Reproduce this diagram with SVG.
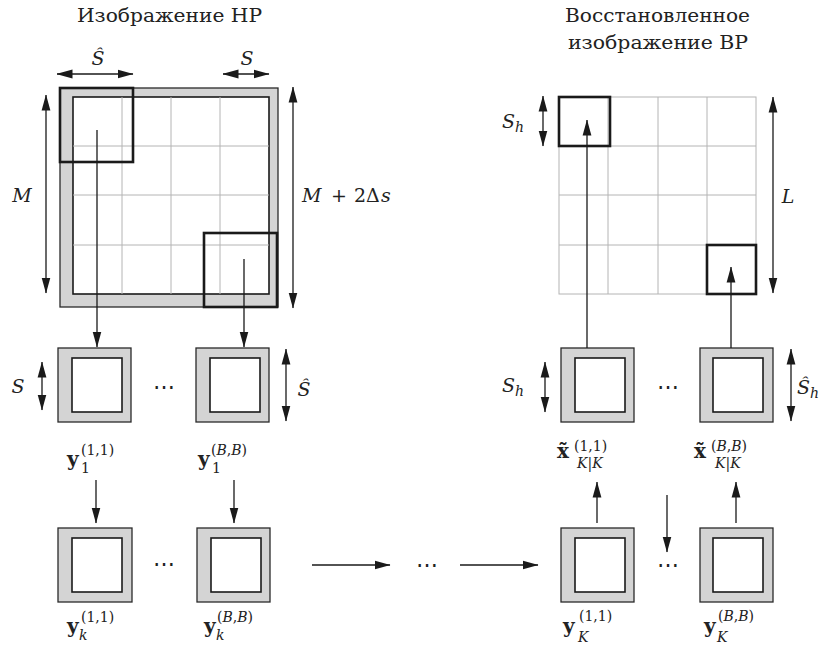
<svg xmlns="http://www.w3.org/2000/svg" width="819" height="650" viewBox="0 0 819 650">
<defs>
<style>
.t{font-family:"DejaVu Serif",serif;fill:#222;font-size:19px}
.i{font-style:italic}
.sm{font-size:14px}
.b{font-weight:bold;font-size:20px}
.dots{font-family:"DejaVu Serif",serif;font-size:22px;fill:#222}
.grid{stroke:#b4b4b4;stroke-width:1;fill:none}
.thick{stroke:#1a1a1a;stroke-width:2.6;fill:none}
.outer{fill:#d4d4d4;stroke:#2a2a2a;stroke-width:1.3}
.inner{fill:#fff;stroke:#1a1a1a;stroke-width:1.6}
.c line{stroke:#1a1a1a;stroke-width:1.3;fill:none}
.d{marker-start:url(#ah);marker-end:url(#ah)}
.a{marker-end:url(#ah)}
</style>
<marker id="ah" viewBox="0 0 16 10" refX="15.5" refY="5" markerWidth="16" markerHeight="10" markerUnits="userSpaceOnUse" orient="auto-start-reverse">
<path d="M0,0.6 L16,5 L0,9.4 z" fill="#1a1a1a"/>
</marker>
</defs>
<rect width="819" height="650" fill="#fff"/>

<!-- titles -->
<text class="t" x="77" y="22" textLength="185" lengthAdjust="spacingAndGlyphs">Изображение НР</text>
<text class="t" x="565" y="22" textLength="185" lengthAdjust="spacingAndGlyphs">Восстановленное</text>
<text class="t" x="568" y="49" textLength="180" lengthAdjust="spacingAndGlyphs">изображение ВР</text>

<!-- LR image -->
<g id="lr-image">
<rect class="outer" x="60" y="88" width="218" height="219"/>
<rect class="inner" x="73" y="97" width="196" height="197"/>
<path class="grid" d="M122,97V294M171,97V294M220,97V294M73,146H269M73,195H269M73,245H269"/>
<rect class="thick" x="60" y="88" width="73" height="74"/>
<rect class="thick" x="204" y="233" width="73" height="74"/>
</g>

<!-- HR image -->
<g id="hr-image">
<rect class="grid" x="559" y="97" width="197" height="197"/>
<path class="grid" d="M608,97V294M658,97V294M707,97V294M559,146H756M559,195H756M559,245H756"/>
<rect class="thick" x="559" y="97" width="51" height="49"/>
<rect class="thick" x="707" y="245" width="49" height="49"/>
</g>

<!-- row 1 left -->
<g id="y1-11">
<rect class="outer" x="58" y="348" width="73" height="74"/>
<rect class="inner" x="72" y="358" width="50" height="54"/>
<text class="t b" x="67" y="466">y</text>
<text class="t sm" x="81" y="455">(1,1)</text>
<text class="t sm" x="81" y="473">1</text>
</g>
<g id="y1-BB">
<rect class="outer" x="196" y="348" width="73" height="74"/>
<rect class="inner" x="210" y="358" width="50" height="54"/>
<text class="t b" x="198" y="466">y</text>
<text class="t sm" x="211" y="455">(<tspan class="i">B</tspan>,<tspan class="i">B</tspan>)</text>
<text class="t sm" x="212" y="473">1</text>
</g>

<!-- row 3 left -->
<g id="yk-11">
<rect class="outer" x="58" y="528" width="74" height="74"/>
<rect class="inner" x="72" y="538" width="50" height="54"/>
<text class="t b" x="67" y="633">y</text>
<text class="t sm" x="81" y="622">(1,1)</text>
<text class="t sm i" x="79" y="640">k</text>
</g>
<g id="yk-BB">
<rect class="outer" x="197" y="528" width="73" height="74"/>
<rect class="inner" x="211" y="538" width="50" height="54"/>
<text class="t b" x="204" y="633">y</text>
<text class="t sm" x="217" y="622">(<tspan class="i">B</tspan>,<tspan class="i">B</tspan>)</text>
<text class="t sm i" x="216" y="640">k</text>
</g>

<!-- row 1 right -->
<g id="xK-11">
<rect class="outer" x="561" y="348" width="73" height="74"/>
<rect class="inner" x="575" y="358" width="50" height="54"/>
<text class="t b" x="557" y="458">x̃</text>
<text class="t sm" x="574" y="451">(1,1)</text>
<text class="t sm" x="577" y="468"><tspan class="i">K</tspan>|<tspan class="i">K</tspan></text>
</g>
<g id="xK-BB">
<rect class="outer" x="700" y="348" width="73" height="74"/>
<rect class="inner" x="713" y="358" width="50" height="54"/>
<text class="t b" x="694" y="458">x̃</text>
<text class="t sm" x="711" y="451">(<tspan class="i">B</tspan>,<tspan class="i">B</tspan>)</text>
<text class="t sm" x="715" y="468"><tspan class="i">K</tspan>|<tspan class="i">K</tspan></text>
</g>

<!-- row 3 right -->
<g id="yK-11">
<rect class="outer" x="561" y="528" width="73" height="74"/>
<rect class="inner" x="575" y="538" width="50" height="54"/>
<text class="t b" x="563" y="633">y</text>
<text class="t sm" x="579" y="621">(1,1)</text>
<text class="t sm i" x="578" y="642">K</text>
</g>
<g id="yK-BB">
<rect class="outer" x="700" y="528" width="73" height="74"/>
<rect class="inner" x="713" y="538" width="50" height="54"/>
<text class="t b" x="704" y="633">y</text>
<text class="t sm" x="718" y="621">(<tspan class="i">B</tspan>,<tspan class="i">B</tspan>)</text>
<text class="t sm i" x="717" y="642">K</text>
</g>

<!-- dots -->
<g id="dots">
<text class="dots" x="164" y="394" text-anchor="middle">⋯</text>
<text class="dots" x="164" y="571" text-anchor="middle">⋯</text>
<text class="dots" x="427" y="572" text-anchor="middle">⋯</text>
<text class="dots" x="668" y="394" text-anchor="middle">⋯</text>
<text class="dots" x="668" y="572" text-anchor="middle">⋯</text>
</g>

<!-- dimension labels -->
<g id="dim-labels">
<text class="t i" x="98" y="65" text-anchor="middle">Ŝ</text>
<text class="t i" x="247" y="65" text-anchor="middle">S</text>
<text class="t i" x="22" y="202" text-anchor="middle">M</text>
<text class="t" y="202"><tspan class="i" x="302">M</tspan><tspan x="331">+</tspan><tspan x="354">2Δ</tspan><tspan class="i" x="381">s</tspan></text>
<text class="t i" x="18" y="393" text-anchor="middle">S</text>
<text class="t i" x="304" y="396" text-anchor="middle">Ŝ</text>
<text class="t" x="502" y="128"><tspan class="i">S</tspan><tspan class="i sm" dy="4">h</tspan></text>
<text class="t i" x="788" y="203" text-anchor="middle">L</text>
<text class="t" x="502" y="392"><tspan class="i">S</tspan><tspan class="i sm" dy="4">h</tspan></text>
<text class="t" x="797" y="394"><tspan class="i">Ŝ</tspan><tspan class="i sm" dy="4">h</tspan></text>
</g>

<!-- connectors -->
<g id="connectors" class="c">
<line class="d" x1="57" y1="74" x2="133" y2="74"/>
<line class="d" x1="223" y1="74" x2="269" y2="74"/>
<line class="d" x1="46" y1="95" x2="46" y2="293"/>
<line class="d" x1="293" y1="87" x2="293" y2="308"/>
<line class="d" x1="42" y1="362" x2="42" y2="410"/>
<line class="d" x1="286" y1="349" x2="286" y2="421"/>
<line class="d" x1="543" y1="96" x2="543" y2="146"/>
<line class="d" x1="773" y1="97" x2="773" y2="293"/>
<line class="d" x1="545" y1="362" x2="545" y2="412"/>
<line class="d" x1="791" y1="349" x2="791" y2="421"/>

<line class="a" x1="97" y1="130" x2="97" y2="347"/>
<line class="a" x1="244" y1="259" x2="244" y2="347"/>
<line class="a" x1="587" y1="348" x2="587" y2="120"/>
<line class="a" x1="731" y1="348" x2="731" y2="267"/>

<line class="a" x1="96" y1="480" x2="96" y2="523"/>
<line class="a" x1="234" y1="480" x2="234" y2="523"/>
<line class="a" x1="597" y1="523" x2="597" y2="482"/>
<line class="a" x1="736" y1="523" x2="736" y2="482"/>
<line class="a" x1="667" y1="495" x2="667" y2="552"/>

<line class="a" x1="312" y1="565" x2="390" y2="565"/>
<line class="a" x1="460" y1="565" x2="538" y2="565"/>
</g>
</svg>
